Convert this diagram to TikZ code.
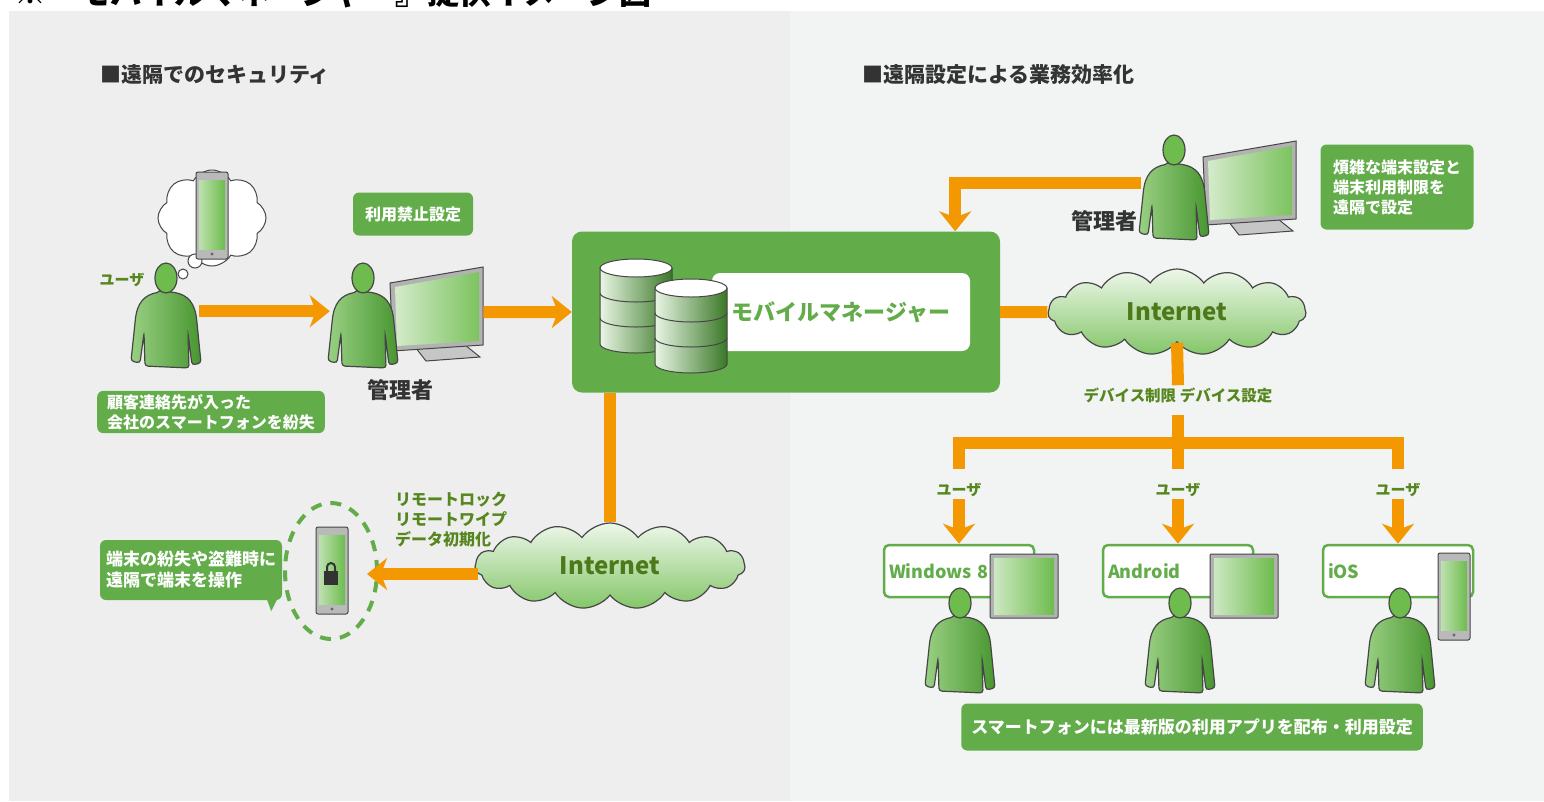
\documentclass[tikz,border=0pt]{standalone}
\usepackage{fontspec}
\setmainfont{Noto Sans CJK JP}
\usetikzlibrary{shapes.symbols, shapes.geometric, arrows.meta, positioning, calc}

\definecolor{boxgreen}{RGB}{98,172,74}
\definecolor{figgreen}{RGB}{110,188,78}
\definecolor{figdark}{RGB}{72,150,48}
\definecolor{labelgreen}{RGB}{86,134,30}
\definecolor{linkorange}{RGB}{243,152,0}
\definecolor{outline}{RGB}{70,70,70}
\definecolor{leftbg}{RGB}{238,238,238}
\definecolor{rightbg}{RGB}{242,244,244}
\newcommand{\pxfont}[2]{\fontsize{#1}{#2}\selectfont\bfseries}

\begin{document}
\begin{tikzpicture}[x=1pt, y=-1pt,
    heading/.style={anchor=west, inner sep=0pt, text=black!80,
      font=\pxfont{21}{21}},
    infobox/.style={fill=boxgreen, rounded corners=6pt, text=white,
      align=left, inner xsep=10pt, font=\pxfont{16}{20}},
    userlabel/.style={text=labelgreen, inner sep=2pt, font=\pxfont{15}{15}},
    adminlabel/.style={text=black!80, inner sep=0pt, font=\pxfont{22}{22}},
    netcloud/.style={cloud, cloud puffs=15, cloud puff arc=110,
      cloud ignores aspect, draw=outline, line width=1.2pt,
      minimum width=#1, minimum height=86pt,
      top color=figgreen!12!white, bottom color=figgreen!85,
      text=labelgreen!90!black, font=\pxfont{24}{24}},
    platform/.style={draw=boxgreen, line width=2.5pt, fill=white,
      rounded corners=5pt, minimum width=150pt, minimum height=52pt,
      text width=140pt, align=left, text=boxgreen, font=\pxfont{18}{18}},
    link/.style={linkorange, line width=12pt},
    link arrow/.style={link, -{Stealth[length=20pt, width=32pt, inset=6pt]}},
    pics/person/.style={code={
      \node[inner sep=0pt, minimum width=66pt, minimum height=96pt,
        anchor=north] (-fig) at (0,0) {};
      \draw[outline, line width=1.2pt, rounded corners=3pt,
        left color=figgreen!70!white, right color=figdark]
        (-6,29) -- (6,29) .. controls (22,32) and (29,40) .. (31,60)
        -- (35,100) -- (26,102) -- (22,70) -- (23,105) -- (-21,103)
        -- (-22,70) -- (-26,100) -- (-35,98) -- (-31,60)
        .. controls (-29,40) and (-22,32) .. cycle;
      \draw[outline, line width=1.2pt, fill=figgreen]
        (0,15) ellipse [x radius=11, y radius=15];
    }},
    pics/monitor/.style={code={
      \node[inner sep=0pt, minimum width=93pt, minimum height=90pt,
        anchor=north west] (-screen) at (0,0) {};
      \draw[outline, line width=1pt, fill=gray!45]
        (22,76) -- (70,74) -- (90,90) -- (36,94) -- cycle;
      \draw[outline, line width=1pt, fill=gray!60]
        (0,16) -- (93,0) -- (93,78) -- (3,84) -- cycle;
      \shade[left color=figgreen!30!white, right color=figgreen!90]
        (5,20) -- (89,5) -- (89,74) -- (7,79) -- cycle;
    }},
    pics/panel/.style={code={
      \draw[outline, line width=1pt, fill=gray!60, rounded corners=1pt]
        (0,0) rectangle (68,64);
      \shade[left color=figgreen!35!white, right color=figgreen]
        (4,4) rectangle (64,60);
    }},
    pics/handset/.style={code={
      \draw[outline, line width=1pt, fill=gray!55, rounded corners=2pt]
        (0,0) rectangle (32,87);
      \shade[left color=figgreen!45!white, right color=figgreen]
        (3,8) rectangle (29,77);
      \fill[gray!80!black] (16,82) circle (1.6);
    }},
    pics/dbstack/.style={code={
      \draw[outline, line width=1pt,
        left color=figgreen!15!white, right color=figdark!80!black]
        (0,0) -- (0,76) arc[start angle=180, end angle=0,
        x radius=36, y radius=9] -- (72,0) -- cycle;
      \draw[outline, line width=1pt] (0,25) arc[start angle=180,
        end angle=0, x radius=36, y radius=9];
      \draw[outline, line width=1pt] (0,50) arc[start angle=180,
        end angle=0, x radius=36, y radius=9];
      \draw[outline, line width=1pt, fill=white]
        (36,0) ellipse [x radius=36, y radius=9];
    }}]

  \useasboundingbox (0,0) rectangle (1544,801);
  \clip (0,0) rectangle (1544,801);
  \fill[white] (0,0) rectangle (1544,801);
  \fill[leftbg] (9,11) rectangle (790,801);
  \fill[rightbg] (790,11) rectangle (1544,801);

  \node[anchor=base west, inner sep=0pt, font=\pxfont{32}{32}] (title)
    at (14,4) {※『モバイルマネージャー』提供イメージ図};

  \node[heading] (secleft) at (100,75) {■遠隔でのセキュリティ};
  \node[heading] (secright) at (862,75) {■遠隔設定による業務効率化};

% LOST PHONE REPORT

  \node[cloud, cloud puffs=8, cloud puff arc=120, cloud ignores aspect,
    draw=outline, line width=1pt, fill=white, minimum width=108pt,
    minimum height=96pt] (thought) at (212,218) {};
  \draw[outline, line width=1pt, fill=white] (195,261) circle (7);
  \draw[outline, line width=1pt, fill=white] (183,274) circle (5);
  \pic at (196,172) {handset};

  \node[userlabel] (user1) at (122,280) {ユーザ};
  \pic (user) at (166,263) {person};

  \node[infobox] (lostinfo) at (211,412)
    {顧客連絡先が入った\\会社のスマートフォンを紛失};

  \node[infobox, minimum width=120pt, minimum height=43pt] (banmsg)
    at (413,214) {利用禁止設定};

  \pic (admon) at (390,267) {monitor};
  \pic (admin) at (363,263) {person};
  \node[adminlabel] (adminname) at (400,390) {管理者};

% MOBILE MANAGER

  \node[fill=boxgreen, rounded corners=10pt, minimum width=428pt,
    minimum height=161pt] (mgr) at (786,312) {};
  \node[fill=white, rounded corners=8pt, minimum width=258pt,
    minimum height=78pt, text=boxgreen, font=\pxfont{22}{22}] (mgrname)
    at (841,312) {モバイルマネージャー};
  \pic at (600,268) {dbstack};
  \pic at (655,288) {dbstack};

  \draw[link arrow] (user-fig.east) -- (admin-fig.west);
  \draw[link arrow] (admon-screen.east) -- (mgr.west);

% REMOTE LOCK

  \node[netcloud=270pt] (netlow) at (610,566) {Internet};
  \draw[link] (netlow.north |- mgr.south) -- (netlow.north);

  \node[anchor=west, align=left, inner sep=0pt, text=labelgreen,
    font=\pxfont{16}{20}] (remotecmd) at (395,520)
    {リモートロック\\リモートワイプ\\データ初期化};

  \node[ellipse, draw=boxgreen, line width=4pt, dash pattern=on 11pt off 9pt,
    minimum width=92pt, minimum height=136pt] (ring) at (331,571) {};
  \pic at (316,527) {handset};
  \fill[black!80] (324,571) rectangle (338,585);
  \draw[black!80, line width=2pt] (327,572) -- (327,567)
    arc[start angle=180, end angle=360, radius=4] -- (335,572);

  \draw[link arrow] ($(netlow.west)+(4,8)$)
    -- ($(netlow.west -| ring.east)+(-12,8)$);

  \node[infobox, inner xsep=6pt, font=\pxfont{17}{21}, minimum height=60pt]
    (lockmsg) at (191,570) {端末の紛失や盗難時に\\遠隔で端末を操作};
  \fill[boxgreen] ($(lockmsg.south east)+(-16,-3)$) -- ++(12,0)
    -- ++(-7,14) -- cycle;

% REMOTE SETTINGS

  \pic (admon2) at (1203,141) {monitor};
  \pic (admin2) at (1174,135) {person};
  \node[adminlabel] (adminname2) at (1104,221) {管理者};
  \draw[link arrow] (admin2-fig.west) -| ($(mgr.north east)+(-45,0)$);

  \node[infobox, minimum width=153pt, minimum height=85pt] (setmsg)
    at (1397,187) {煩雑な端末設定と\\端末利用制限を\\遠隔で設定};

  \node[netcloud=258pt] (nethigh) at (1177,312) {Internet};
  \draw[link] (mgr.east) -- (nethigh.west);

  \node[userlabel, font=\pxfont{15.5}{15.5}] (devctl) at (1178,395)
    {デバイス制限 デバイス設定};
  \draw[link] (nethigh.south) -- (devctl.north);

  \node[userlabel] (u1) at (959,490) {ユーザ};
  \node[userlabel] (u2) at (1178,490) {ユーザ};
  \node[userlabel] (u3) at (1398,490) {ユーザ};

  \coordinate (bus) at (1178,443);
  \draw[link] ([yshift=-10pt]devctl.south) -- ([yshift=12pt]u2.north);
  \draw[link] ([yshift=12pt]u1.north) |- (bus) -| ([yshift=12pt]u3.north);

% DEVICES

  \node[platform] (win) at (959,571) {Windows 8};
  \node[platform] (andr) at (1178,571) {Android};
  \node[platform] (ios) at (1398,571) {iOS};

  \draw[link arrow] (u1.south) -- (win.north);
  \draw[link arrow] (u2.south) -- (andr.north);
  \draw[link arrow] (u3.south) -- (ios.north);

  \pic at (990,554) {panel};
  \pic at (1210,554) {panel};
  \pic at (1438,553) {handset};

  \pic (winuser) at (960,588) {person};
  \pic (andruser) at (1180,588) {person};
  \pic (iosuser) at (1400,588) {person};

  \node[infobox, minimum width=455pt, minimum height=47pt,
    font=\pxfont{17}{17}] (appmsg) at (1192,727)
    {スマートフォンには最新版の利用アプリを配布・利用設定};

\end{tikzpicture}
\end{document}
